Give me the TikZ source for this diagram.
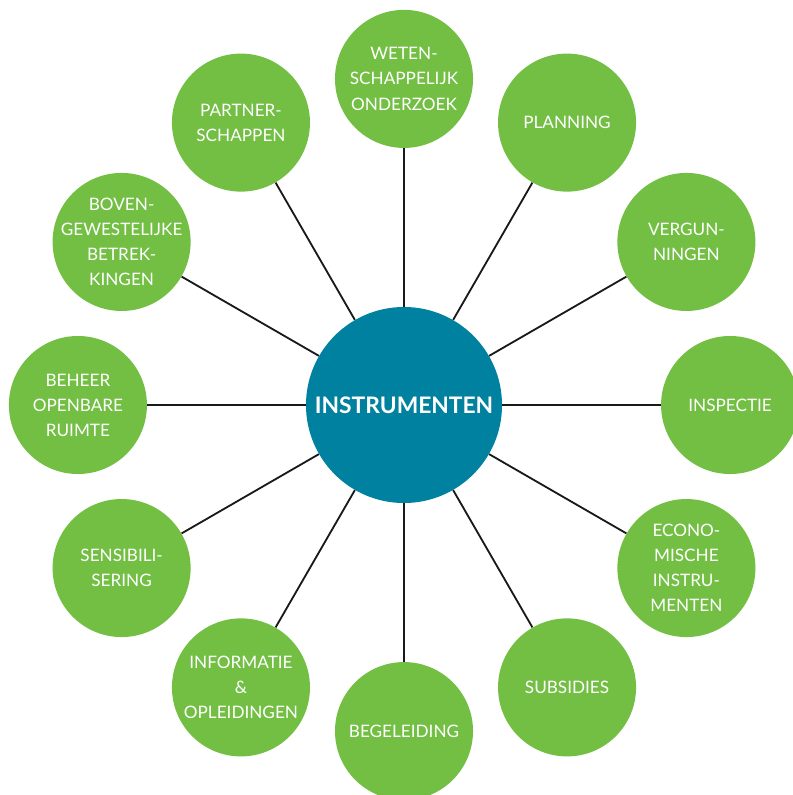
\documentclass[tikz,border=0pt]{standalone}
\usepackage{fontspec}
\setmainfont{Lato}
\definecolor{leafgreen}{HTML}{72BF44}
\definecolor{hubblue}{HTML}{00819F}

\begin{document}
\begin{tikzpicture}[x=0.025cm,y=-0.025cm]
\tikzset{
    hub/.style={circle,fill=hubblue,text=white,minimum size=4.9cm,inner sep=0pt,
        font=\fontsize{16.2}{18}\selectfont\bfseries},
    spoke/.style={circle,fill=leafgreen,minimum size=3.45cm,inner sep=0pt},
    spoketext/.style={text=white,align=center,inner sep=0pt,
        font=\fontsize{12.2}{17.8}\selectfont},
    link/.style={line width=1.3pt,black!90}
}
\useasboundingbox (0,0) rectangle (792,795);

\node[hub] (hub) at (404,405) {INSTRUMENTEN};

\foreach \a/\t in {0/INSPECTIE, 30/{VERGUN-\\NINGEN}, 60/PLANNING,
    90/{WETEN-\\SCHAPPELIJK\\ONDERZOEK}, 120/{PARTNER-\\SCHAPPEN},
    150/{BOVEN-\\GEWESTELIJKE\\BETREK-\\KINGEN}, 180/{BEHEER\\OPENBARE\\RUIMTE},
    210/{SENSIBILI-\\SERING}, 240/{INFORMATIE\\\&\\OPLEIDINGEN},
    270/BEGELEIDING, 300/SUBSIDIES, 330/{ECONO-\\MISCHE\\INSTRU-\\MENTEN}}{
    \path (hub.center) ++(\a:8.15cm) node[spoke] (s\a) {};
    \node[spoketext] (t\a) at (s\a) {\t};
    \draw[link] (hub) -- (s\a);
}
\end{tikzpicture}
\end{document}
